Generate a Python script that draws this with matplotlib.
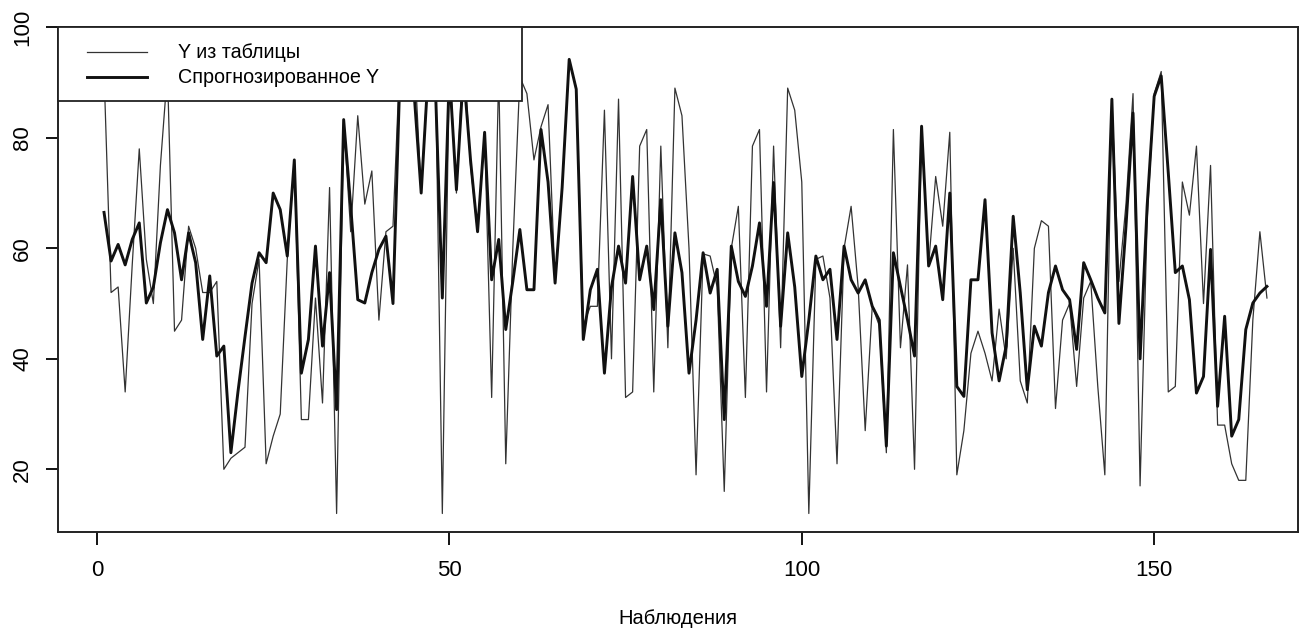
import matplotlib
matplotlib.use("Agg")
import matplotlib.pyplot as plt
from matplotlib.patches import Rectangle
from matplotlib.lines import Line2D

plt.rcParams['font.family'] = ['Liberation Sans', 'DejaVu Sans']

# Observed values ("Y из таблицы")
y_table = [92, 52, 53, 34, 57, 78, 58, 50, 75, 92,
           45, 47, 64, 60, 52, 52, 54, 20, 22, 23,
           24, 50, 58, 21, 26, 30, 58, 76, 29, 29,
           51, 32, 71, 12, 83, 63, 84, 68, 74, 47,
           63, 64, 95, 92, 96, 70, 93, 95, 12, 94,
           70, 96, 75, 63, 81, 33, 92, 21, 60, 91,
           88, 76, 82, 86, 54, 71, 94, 89, 46, 49.5,
           49.5, 85, 40, 87, 33, 34, 78.5, 81.5, 34, 78.5,
           42, 89, 84, 60, 19, 59, 58.6, 53, 16, 60,
           67.6, 33, 78.5, 81.5, 34, 78.5, 42, 89, 85, 72,
           12, 58, 58.6, 51, 21, 60, 67.6, 53, 27, 49.5,
           46, 23, 81.5, 42, 57, 20, 82, 57, 73, 64,
           81, 19, 27, 41, 45, 41, 36, 49, 40, 60,
           36, 32, 60, 65, 64, 31, 47, 50, 35, 51,
           54, 35, 19, 87, 54, 68, 88, 17, 65, 88,
           92, 34, 35, 72, 66, 78.5, 50, 75, 28, 28,
           21, 18, 18, 47, 63, 51]

# Forecast values ("Спрогнозированное Y")
y_pred = [66.5, 57.7, 60.7, 57, 61.6, 64.6, 50.1, 53, 61, 67,
          62.8, 54.3, 62.8, 57.4, 43.5, 55, 40.5, 42.3, 23, 34,
          44, 53.7, 59.2, 57.4, 70, 67, 58.6, 76, 37.4, 43.5,
          60.4, 42.3, 55.6, 30.8, 83.3, 67.6, 50.7, 50.1, 55.6, 59.8,
          62.2, 50, 92, 95, 88, 70, 92, 90, 51, 92,
          70.6, 92, 76, 63, 81, 54.3, 61.6, 45.3, 54, 63.4,
          52.5, 52.5, 81.5, 72, 53.7, 71, 94.2, 88.8, 43.5, 52.5,
          56.2, 37.4, 53, 60.4, 53.7, 73, 54.3, 60.4, 48.9, 68.8,
          45.9, 62.8, 55.6, 37.4, 47, 59.2, 51.9, 56.2, 29, 60.4,
          54, 51.3, 56.8, 64.6, 49.5, 71.9, 45.9, 62.8, 53, 36.8,
          47, 58.6, 54.3, 56.2, 43.5, 60.4, 54.3, 51.9, 54.3, 49.5,
          47, 24.2, 59.2, 53.1, 47.1, 40.5, 82.1, 56.8, 60.4, 50.7,
          70, 35, 33.2, 54.3, 54.3, 68.8, 44.7, 36, 42.3, 65.8,
          51.9, 34.4, 45.9, 42.3, 52, 56.8, 52.5, 50.7, 41.7, 57.4,
          54.3, 51, 48.3, 87, 46.4, 64, 84.5, 40, 67.6, 87.5,
          91.2, 73.7, 55.6, 56.8, 50.7, 33.8, 36.8, 59.8, 31.4, 47.7,
          26, 29, 45.3, 50.1, 51.9, 53.1]

obs = list(range(1, len(y_table) + 1))
x_ticks = [0, 50, 100, 150]
y_ticks = [20, 40, 60, 80, 100]
legend_labels = ["Y из таблицы", "Спрогнозированное Y"]
x_label = "Наблюдения"

fig = plt.figure(figsize=(13, 6.28), dpi=100)
ax = fig.add_axes([0.04462, 0.1533, 0.9538, 0.8032])

ax.plot(obs, y_table, color='#333333', lw=0.9, zorder=2)
ax.plot(obs, y_pred, color='#111111', lw=2.1, zorder=3)

ax.set_xlim(-5.53, 170.4)
ax.set_ylim(8.7, 100)
ax.set_xticks(x_ticks)
ax.set_yticks(y_ticks)
ax.set_xticklabels([str(t) for t in x_ticks], fontsize=16)
ax.set_yticklabels([str(t) for t in y_ticks], fontsize=16, rotation=90, va='center')
ax.tick_params(axis='x', length=9, width=1.3, pad=11.5, color='black')
ax.tick_params(axis='y', length=9, width=1.3, pad=9, color='black')
ax.set_xlabel(x_label, fontsize=14.5, labelpad=20)
for s in ax.spines.values():
    s.set_linewidth(1.4)
    s.set_color('#222222')

# Legend box in the style of R's legend()
ax.add_patch(Rectangle((0, 0.854), 0.374, 0.146, transform=ax.transAxes,
                       facecolor='white', edgecolor='#222222', lw=1.3, zorder=10,
                       clip_on=False))
ax.add_line(Line2D([0.0234, 0.0718], [0.951, 0.951], transform=ax.transAxes,
                   color='#333333', lw=0.9, zorder=11))
ax.add_line(Line2D([0.0234, 0.0718], [0.9015, 0.9015], transform=ax.transAxes,
                   color='#111111', lw=2.1, zorder=11))
ax.text(0.0968, 0.951, legend_labels[0], transform=ax.transAxes, fontsize=14.2,
        va='center', ha='left', zorder=12)
ax.text(0.0968, 0.9015, legend_labels[1], transform=ax.transAxes, fontsize=14.2,
        va='center', ha='left', zorder=12)

fig.savefig('out.png', dpi=100)
